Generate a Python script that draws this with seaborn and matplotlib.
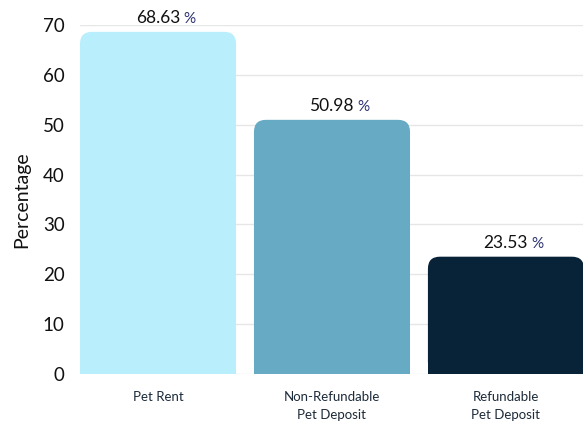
import matplotlib
matplotlib.use("Agg")
import matplotlib.pyplot as plt
import seaborn as sns
import pandas as pd
from matplotlib.patches import FancyBboxPatch

categories = ["Pet Rent", "Non-Refundable\nPet Deposit", "Refundable\nPet Deposit"]
values = [68.63, 50.98, 23.53]
colors = ["#B9EEFC", "#66AAC4", "#082238"]
yticks = [0, 10, 20, 30, 40, 50, 60, 70]

sns.set_theme(style="white")
plt.rcParams["font.family"] = ["Lato", "DejaVu Sans"]

df = pd.DataFrame({"cat": categories, "val": values})

fig = plt.figure(figsize=(5.83, 4.25), dpi=100)
ax = fig.add_axes([80 / 583, 1 - 374 / 425, 1 - 80 / 583, (374 - 25) / 425])

sns.barplot(data=df, x="cat", y="val", hue="cat", palette=colors, legend=False,
            width=0.897, ax=ax, saturation=1)

ax.set_xlim(-0.4485, 2.443)
ax.set_ylim(0, 70)

# replace bars with top-rounded versions
rx = 12 / 174.0
ry = 12 / ((374 - 25) / 70.0)
for p in list(ax.patches):
    x0, y0 = p.get_x(), p.get_y()
    w, h = p.get_width(), p.get_height()
    fc = p.get_facecolor()
    p.set_visible(False)
    rb = FancyBboxPatch((x0, y0), w, h, boxstyle=f"round,pad=0,rounding_size={rx}",
                        mutation_aspect=ry / rx, facecolor=fc, edgecolor="none",
                        zorder=3, clip_on=False)
    ax.add_patch(rb)
    sq = plt.Rectangle((x0, y0), w, h / 2, facecolor=fc, edgecolor="none", zorder=3)
    ax.add_patch(sq)

for i, v in enumerate(values):
    ax.annotate(f"{v:.2f}", (i, v), xytext=(22, 6), textcoords="offset pixels",
                ha="right", va="bottom", fontsize=12.5, color="#111111",
                annotation_clip=False)
    ax.annotate("%", (i, v), xytext=(25, 6), textcoords="offset pixels",
                ha="left", va="bottom", fontsize=11, color="#2d3370",
                annotation_clip=False)

ax.set_yticks(yticks)
ax.set_yticklabels([str(t) for t in yticks], fontsize=13.5, color="#111111")
ax.tick_params(axis="y", length=0, pad=11)
ax.tick_params(axis="x", length=0, pad=12, labelsize=9.5, labelcolor="#1d2b3a")
for lab in ax.get_xticklabels():
    lab.set_linespacing(1.6)

ax.grid(axis="y", color="#e6e6e6", linewidth=1, zorder=0)
ax.set_axisbelow(True)
for s in ax.spines.values():
    s.set_visible(False)

ax.set_xlabel("")
ax.set_ylabel("Percentage", fontsize=14, color="#111111", labelpad=9)

fig.savefig("out.png", dpi=100)
